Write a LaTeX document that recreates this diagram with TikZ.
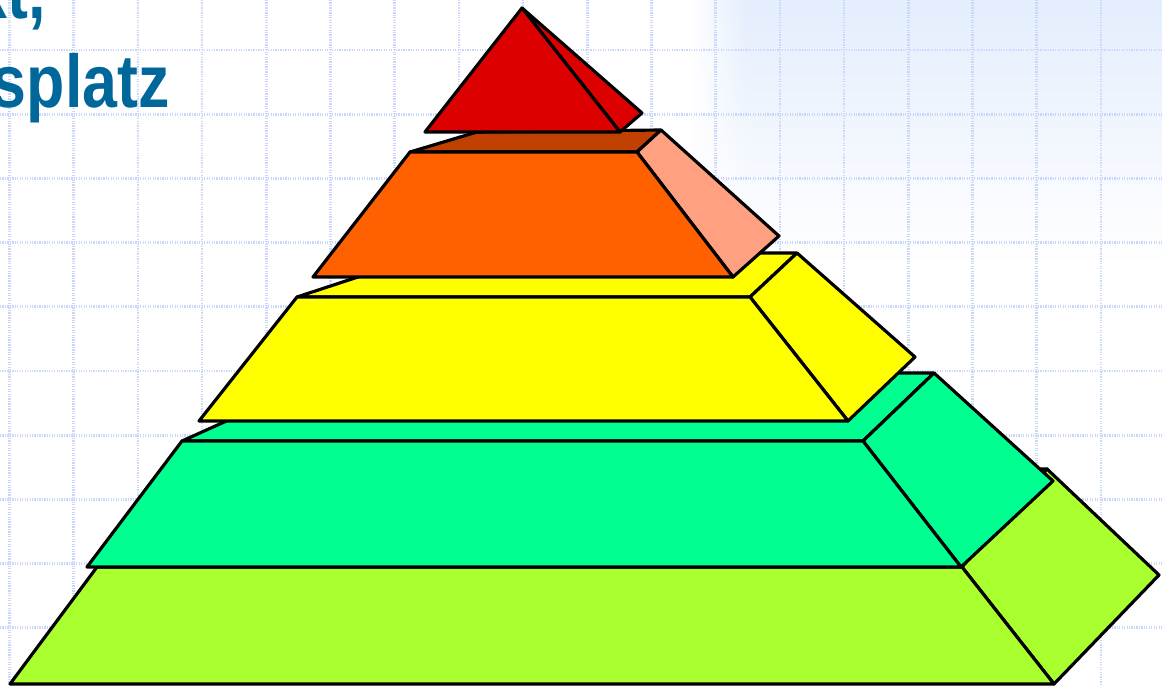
\documentclass[tikz,border=0pt]{standalone}
\usepackage{fontspec}
\setmainfont{Liberation Sans}
\newfontfamily\titlefont[FakeStretch=0.84]{Liberation Sans}
\usetikzlibrary{fadings}
\definecolor{pyRed}{HTML}{DC0000}
\definecolor{pyOrange}{HTML}{FF6000}
\definecolor{pyRust}{HTML}{BF4000}
\definecolor{pySalmon}{HTML}{FFA080}
\definecolor{pyYellow}{HTML}{FFFF00}
\definecolor{pyGreen}{HTML}{00FF91}
\definecolor{pyLime}{HTML}{AAFF2E}
\definecolor{bgBlue}{HTML}{E4EEFD}
\definecolor{gridBlue}{HTML}{CAD6FA}
\definecolor{titleBlue}{HTML}{00679B}
\pgfdeclarehorizontalshading{skyfade}{100bp}{color(0bp)=(white); color(25bp)=(white); color(31bp)=(bgBlue); color(100bp)=(bgBlue)}

\begin{document}
\begin{tikzpicture}[x=0.02cm,y=-0.02cm,
  face/.style={draw=black,line width=1.8pt,line join=round},
  gridline/.style={gridBlue,line width=1.5pt,dash pattern=on 0.7pt off 0.7pt},
  title/.style={font=\titlefont\bfseries\fontsize{42.5}{50}\selectfont,text=titleBlue,inner sep=0pt}]
\path[use as bounding box,clip] (0,0) rectangle (1162,686);
\fill[white] (0,0) rectangle (1162,686);
\shade[shading=skyfade,path fading=south] (690,0) rectangle (1162,260);
\foreach \x in {0,...,17} \draw[gridline] (9.5+64.2*\x,0) -- (9.5+64.2*\x,686);
\foreach \y in {0,...,9} \draw[gridline] (0,50+64.2*\y) -- (1162,50+64.2*\y);
\node[title,anchor=base east] (lineA) at (46,19) {kt,};
\node[title,anchor=base east] (lineB) at (170,108) {splatz};
\filldraw[face,fill=pyLime] (97,567) -- (962,567) -- (1047,469) -- (300,469) -- cycle;
\filldraw[face,fill=pyLime] (962,567) -- (1047,469) -- (1159,575) -- (1054,684) -- cycle;
\filldraw[face,fill=pyLime] (10,684) -- (97,567) -- (962,567) -- (1054,684) -- cycle;
\filldraw[face,fill=pyGreen] (182,441) -- (863,441) -- (934,373) -- (333,373) -- cycle;
\filldraw[face,fill=pyGreen] (863,441) -- (934,373) -- (1053,481) -- (961,567) -- cycle;
\filldraw[face,fill=pyGreen] (87,567) -- (182,441) -- (863,441) -- (961,567) -- cycle;
\filldraw[face,fill=pyYellow] (297,297) -- (750,297) -- (797,253) -- (431,253) -- cycle;
\filldraw[face,fill=pyYellow] (750,297) -- (797,253) -- (915,357) -- (848,421) -- cycle;
\filldraw[face,fill=pyYellow] (199,421) -- (297,297) -- (750,297) -- (848,421) -- cycle;
\filldraw[face,fill=pyRust] (410,152) -- (637,152) -- (661,130) -- (477,132) -- cycle;
\filldraw[face,fill=pySalmon] (637,152) -- (661,130) -- (779,236) -- (733,277) -- cycle;
\filldraw[face,fill=pyOrange] (313,277) -- (410,152) -- (637,152) -- (733,277) -- cycle;
\filldraw[face,fill=pyRed] (522,8) -- (642,113) -- (620,132) -- cycle;
\filldraw[face,fill=pyRed] (425,132) -- (522,8) -- (620,132) -- cycle;
\end{tikzpicture}
\end{document}
